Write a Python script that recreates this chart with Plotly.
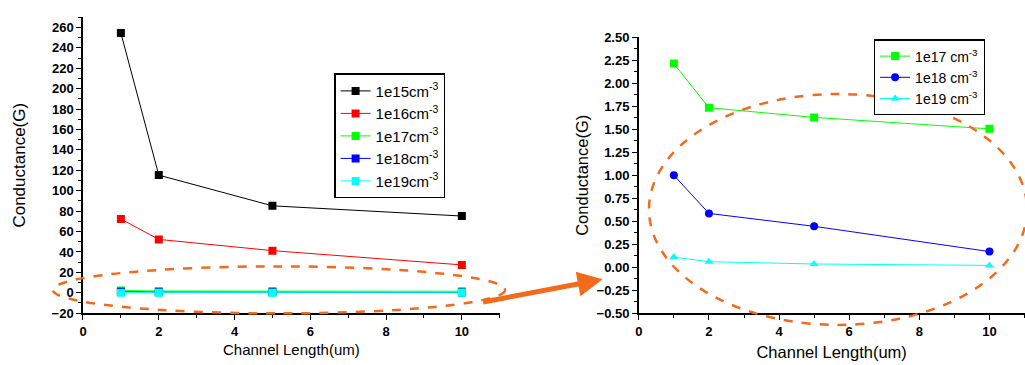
import plotly.graph_objects as go

W, H = 1025, 365

# Channel length (um) and conductance (G) per doping level
channel_length = [1, 2, 5, 10]
g_1e15 = [254.5, 115.3, 85.2, 75.2]
g_1e16 = [72.3, 52.3, 41.3, 27.3]
g_1e17 = [2.215, 1.735, 1.63, 1.505]
g_1e18 = [1.0, 0.585, 0.445, 0.17]
g_1e19 = [0.11, 0.06, 0.035, 0.02]

doping = ["1e15", "1e16", "1e17", "1e18", "1e19"]
series = [g_1e15, g_1e16, g_1e17, g_1e18, g_1e19]
colors = ["#000000", "#ff0000", "#00ff00", "#0000ff", "#00ffff"]
zoom_symbols = {"1e17": "square", "1e18": "circle", "1e19": "triangle-up"}

x_ticks = [0, 2, 4, 6, 8, 10]


def px(x):
    return x / W


def py(y):
    return 1 - y / H


FONT = "Liberation Sans, Arial, sans-serif"
fig = go.Figure()

# Overview panel: all five doping levels
for name, vals, col in zip(doping, series, colors):
    fig.add_trace(go.Scatter(
        x=channel_length, y=vals, mode="lines+markers",
        name=f"{name}cm<sup>-3</sup>",
        line=dict(color=col, width=1),
        marker=dict(symbol="square", size=8, color=col),
        xaxis="x", yaxis="y", legend="legend",
    ))

# Zoomed panel: the three highest doping levels
for name, vals, col in zip(doping[2:], series[2:], colors[2:]):
    fig.add_trace(go.Scatter(
        x=channel_length, y=vals, mode="lines+markers",
        name=f"{name} cm<sup>-3</sup>",
        line=dict(color=col, width=1),
        marker=dict(symbol=zoom_symbols[name], size=8, color=col),
        xaxis="x2", yaxis="y2", legend="legend2",
    ))

axis_common = dict(
    showline=True, linecolor="black", linewidth=1.5, mirror=False,
    ticks="outside", ticklen=5, tickwidth=1.2, tickcolor="black",
    showgrid=False, zeroline=False,
    tickfont=dict(family=FONT, size=13, color="black", weight="bold"),
)

fig.update_layout(
    width=W, height=H,
    margin=dict(l=0, r=0, t=0, b=0),
    paper_bgcolor="white", plot_bgcolor="white",
    font=dict(family=FONT, color="black"),
    xaxis=dict(
        domain=[px(79.3), px(497.7)], range=[0, 11], anchor="y",
        tickvals=x_ticks,
        minor=dict(dtick=1, ticklen=3, ticks="outside", tickcolor="black"),
        title=dict(text="Channel Length(um)", font=dict(size=15, family=FONT), standoff=7),
        **axis_common,
    ),
    yaxis=dict(
        domain=[py(319.3), py(10.7)], range=[-20, 270], anchor="x",
        dtick=20, tick0=0,
        minor=dict(dtick=10, ticklen=3, ticks="outside", tickcolor="black"),
        title=dict(text="Conductance(G)", font=dict(size=17, family=FONT), standoff=22),
        **axis_common,
    ),
    xaxis2=dict(
        domain=[px(637.3), px(1024.5)], range=[0, 11], anchor="y2",
        tickvals=x_ticks,
        minor=dict(dtick=1, ticklen=3, ticks="outside", tickcolor="black"),
        title=dict(text="Channel Length(um)", font=dict(size=16.5, family=FONT), standoff=9),
        **axis_common,
    ),
    yaxis2=dict(
        domain=[py(319.3), py(31.7)], range=[-0.5, 2.5], anchor="x2",
        dtick=0.25, tick0=0, tickformat=".2f",
        minor=dict(dtick=0.125, ticklen=3, ticks="outside", tickcolor="black"),
        title=dict(text="Conductance(G)", font=dict(size=16.5, family=FONT), standoff=4),
        **axis_common,
    ),
    legend=dict(
        x=px(331.7), y=py(69.3), xanchor="left", yanchor="top",
        bordercolor="black", borderwidth=1.2, bgcolor="white",
        font=dict(size=15, family=FONT), tracegroupgap=0,
    ),
    legend2=dict(
        x=px(873.3), y=py(33.7), xanchor="left", yanchor="top",
        bordercolor="black", borderwidth=1.2, bgcolor="white",
        font=dict(size=14, family=FONT), tracegroupgap=0,
    ),
    showlegend=True,
)

ORANGE = "#f26a1b"

# Dashed ellipses marking the low-conductance region and its enlargement
fig.add_shape(type="circle", xref="paper", yref="paper",
              x0=px(49), x1=px(503), y0=py(319.5), y1=py(270.5),
              line=dict(color=ORANGE, width=2.5, dash="dash"))
fig.add_shape(type="circle", xref="paper", yref="paper",
              x0=px(647.5), x1=px(1027), y0=py(331.5), y1=py(90.7),
              line=dict(color=ORANGE, width=2.5, dash="dash"))

# Arrow linking the two panels
fig.add_annotation(
    x=px(601), y=py(284), xref="paper", yref="paper",
    ax=-121, ay=23, axref="pixel", ayref="pixel",
    text="", showarrow=True, arrowhead=2, arrowsize=1,
    arrowwidth=5, arrowcolor=ORANGE,
)

fig.write_html("out.html")
